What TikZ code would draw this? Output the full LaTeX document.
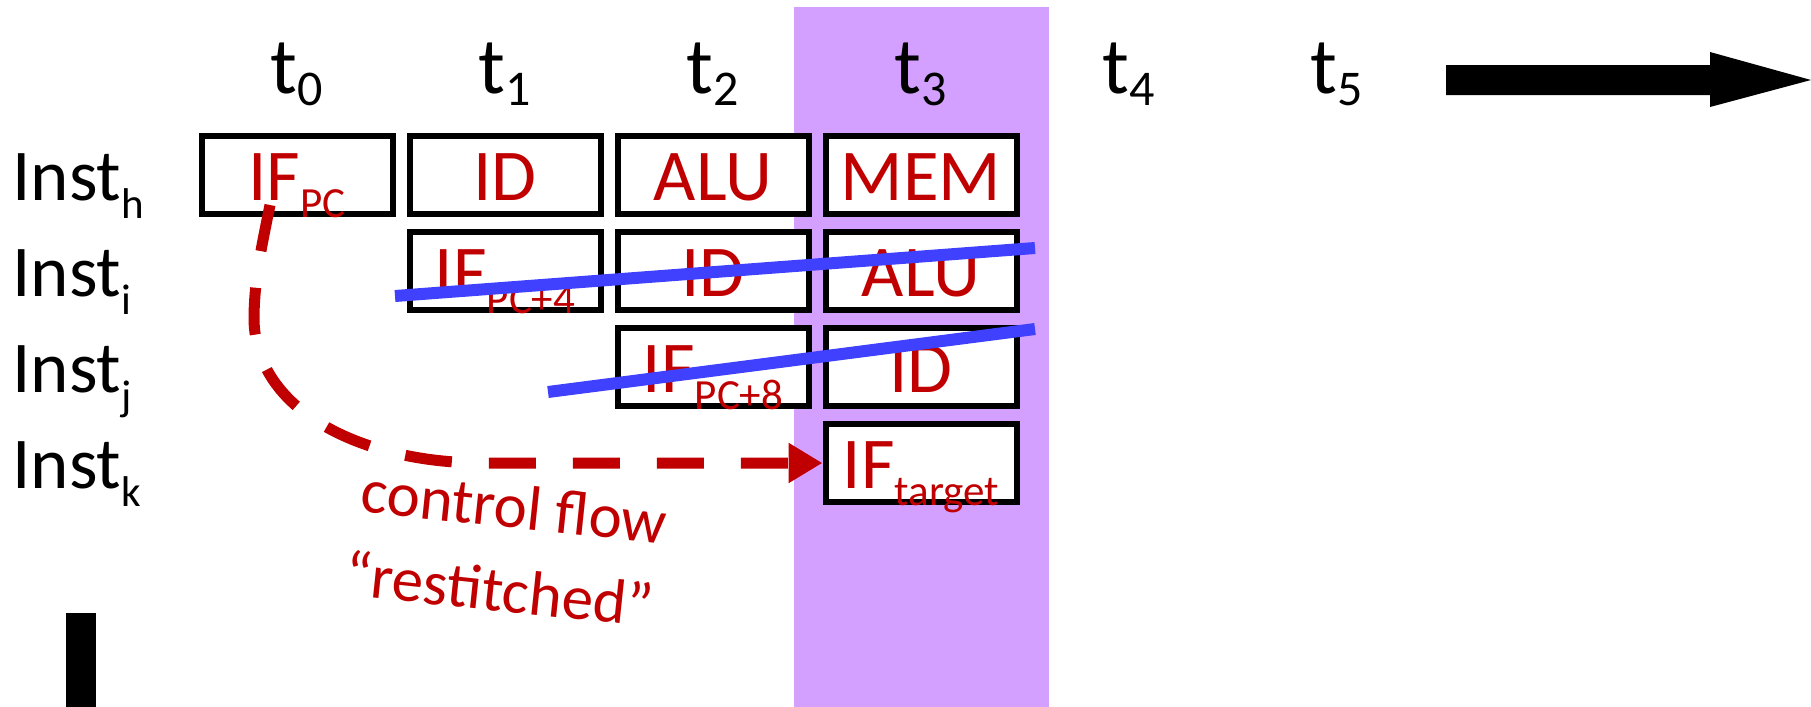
\documentclass[tikz,border=0pt]{standalone}
\usepackage{fontspec}
\setmainfont{Carlito}
\usetikzlibrary{arrows.meta}
\definecolor{dred}{RGB}{192,0,0}
\definecolor{bandpurple}{RGB}{212,160,255}
\definecolor{strikeblue}{RGB}{64,64,255}
\newcommand\boxsub[1]{\raisebox{-8.5pt}{\fontsize{21.5pt}{22pt}\selectfont #1}}
\newcommand\instsub[1]{\raisebox{-9pt}{\fontsize{21.5pt}{22pt}\selectfont #1}}
\newcommand\tsub[1]{\raisebox{-6pt}{\fontsize{25pt}{26pt}\selectfont #1}}
\begin{document}
\begin{tikzpicture}[x=0.5pt,y=-0.5pt,
  stage/.style={draw=black, line width=3pt, fill=white, minimum width=95.5pt,
    minimum height=39pt, inner sep=0pt, text height=25pt, text depth=0pt,
    text=dred, font=\fontsize{36.5pt}{40pt}\selectfont},
  rowlabel/.style={anchor=base west, inner sep=0pt, font=\fontsize{36.5pt}{40pt}\selectfont},
  timelabel/.style={anchor=base, inner sep=0pt, font=\fontsize{40pt}{44pt}\selectfont},
  strike/.style={draw=strikeblue, line width=6pt},
  flow/.style={draw=dred, line width=5.5pt, dash pattern=on 23.5pt off 18.5pt,
    -{Triangle[length=17pt,width=19pt]}},
  note/.style={anchor=base, inner sep=0pt, text=dred, rotate=-6,
    font=\fontsize{31.5pt}{34pt}\selectfont}]
\useasboundingbox (0,0) rectangle (1811,707);
% highlighted cycle band
\fill[bandpurple] (794,7) rectangle (1049,707);
% time arrow
\fill[black] (1446,65) -- (1710,65) -- (1710,52) -- (1811,80) -- (1710,107)
  -- (1710,95) -- (1446,95) -- cycle;
% bar bottom left
\fill[black] (66,613) rectangle (96,707);
% time labels
\node[timelabel] (t0) at (297,93) {t\tsub{0}};
\node[timelabel] (t1) at (505,93) {t\tsub{1}};
\node[timelabel] (t2) at (713,93) {t\tsub{2}};
\node[timelabel] (t3) at (921,93) {t\tsub{3}};
\node[timelabel] (t4) at (1129,93) {t\tsub{4}};
\node[timelabel] (t5) at (1337,93) {t\tsub{5}};
% row labels
\node[rowlabel] (lh) at (12,200) {Inst\instsub{h}};
\node[rowlabel] (li) at (12,296) {Inst\instsub{i}};
\node[rowlabel] (lj) at (12,392) {Inst\instsub{j}};
\node[rowlabel] (lk) at (12,488) {Inst\instsub{k}};
% pipeline stages
\node[stage] (h0) at (297,175) {IF\boxsub{PC}};
\node[stage] (h1) at (505,175) {ID};
\node[stage] (h2) at (713,175) {ALU};
\node[stage] (h3) at (921,175) {MEM};
\node[stage] (i1) at (505,271) {IF\boxsub{PC+4}};
\node[stage] (i2) at (713,271) {ID};
\node[stage] (i3) at (921,271) {ALU};
\node[stage] (j2) at (713,367) {IF\boxsub{PC+8}};
\node[stage] (j3) at (921,367) {ID};
\node[stage] (k3) at (921,463) {IF\boxsub{target}};
% strike-through lines
\coordinate (s1a) at (395,296);
\coordinate (s1b) at (1035,248);
\coordinate (s2a) at (548,392);
\coordinate (s2b) at (1035,329);
\draw[strike] (s1a) -- (s1b);
\draw[strike] (s2a) -- (s2b);
% control flow arrow
\coordinate (fstart) at (270,205);
\draw[flow] (fstart) .. controls (262,245) and (254,280) .. (254,320)
  .. controls (256,410) and (360,462) .. (480,463) -- (k3.west);
\node[note] (cf1) at (512,528) {control flow};
\node[note] (cf2) at (497,611) {“restitched”};
\end{tikzpicture}
\end{document}
